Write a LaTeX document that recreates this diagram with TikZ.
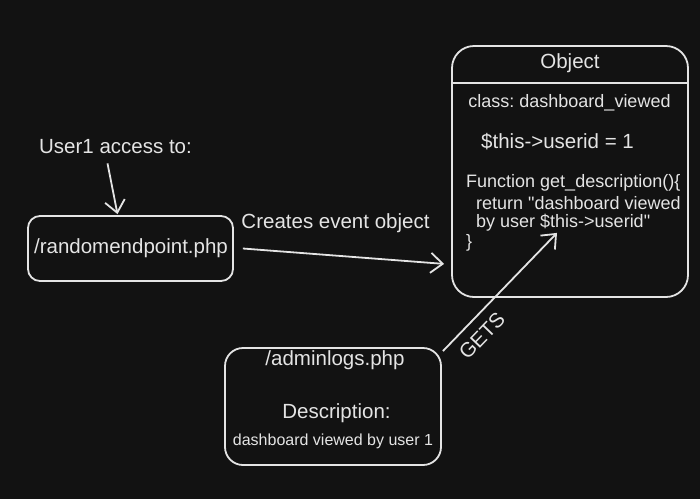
\documentclass[tikz,border=0pt]{standalone}
\usepackage{fontspec}
\setmainfont{Liberation Sans}
\usetikzlibrary{arrows.meta}
\definecolor{bg}{HTML}{121212}
\definecolor{ink}{HTML}{E4E4E4}
\frenchspacing

\begin{document}
\begin{tikzpicture}[x=1pt,y=-1pt,
  box/.style={draw=ink, line width=1.8pt},
  lbl/.style={text=ink, inner sep=0pt, font=\fontsize{20.5}{24}\selectfont},
  small/.style={text=ink, inner sep=0pt, font=\fontsize{18}{21}\selectfont},
  tiny/.style={text=ink, inner sep=0pt, font=\fontsize{16}{19}\selectfont},
  sketch/.style={draw=ink, line width=1.8pt, -{Straight Barb[length=12pt,width=20pt,line width=1.8pt]}}]
  \fill[bg] (0,0) rectangle (700,499);
  \useasboundingbox (0,0) rectangle (700,499);
  % boxes
  \node[box, rounded corners=12pt, minimum width=205pt, minimum height=65pt] (rnd) at (130.5,248.5) {};
  \node[box, rounded corners=22pt, minimum width=236pt, minimum height=251pt] (obj) at (570,171.5) {};
  \node[box, rounded corners=18pt, minimum width=216pt, minimum height=117pt] (admin) at (333,406.5) {};
  \coordinate (sep) at (570,83);
  \draw[box] (obj.west |- sep) -- (obj.east |- sep);
  % texts
  \node[lbl] (user) at (115.5,147) {User1 access to:};
  \node[lbl] (rndtxt) at (131,248) {/randomendpoint.php};
  \node[lbl] (creates) at (335.5,223) {Creates event object};
  \node[lbl] (objtitle) at (570,63) {Object};
  \node[small] (class) at (569.5,103) {class: dashboard\_viewed};
  \node[lbl, anchor=west] (userid) at (481,142) {\$this->userid = 1};
  \node[small, anchor=west] (fn1) at (466,183) {Function get\_description()\{};
  \node[small, anchor=west] (fn2) at (476,203) {return \textquotedbl dashboard viewed};
  \node[small, anchor=west] (fn3) at (476,223) {by user \$this->userid\textquotedbl};
  \node[small, anchor=west] (fn4) at (466,243) {\}};
  \node[lbl] (admintxt) at (335,360) {/adminlogs.php};
  \node[lbl] (desc) at (336.5,413) {Description:};
  \node[tiny] (desctxt) at (333,441) {dashboard viewed by user 1};
  \node[lbl, rotate=46] (gets) at (482,336) {GETS};
  % connectors
  \draw[sketch] ([xshift=-8pt]user.south) ++(0,-9pt) -- ([xshift=-13pt,yshift=1pt]rnd.north);
  \draw[sketch] ([xshift=9pt]rnd.east) -- ([shift={(-7pt,34pt)}]obj.south west);
  \draw[sketch] ([shift={(1pt,-4pt)}]admin.north east) -- ([shift={(-13pt,65pt)}]obj.south);
\end{tikzpicture}
\end{document}
